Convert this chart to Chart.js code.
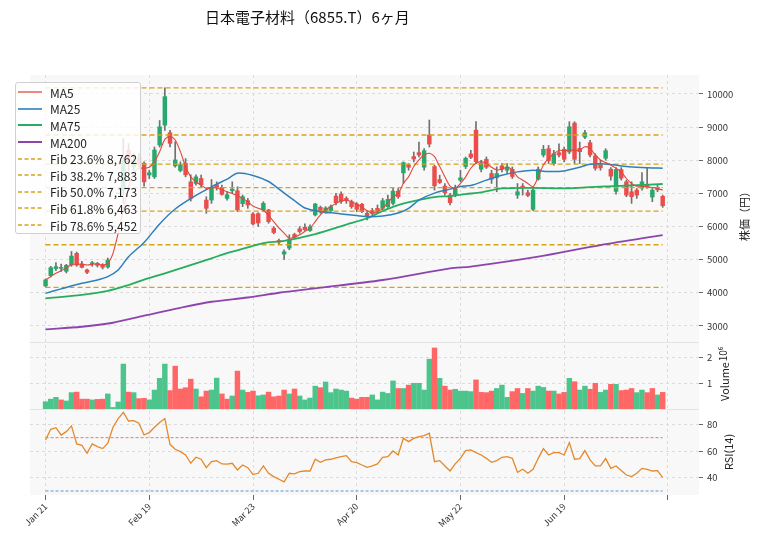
<!DOCTYPE html>
<html>
<head>
<meta charset="utf-8">
<script src="https://cdn.jsdelivr.net/npm/chart.js@4.4.0/dist/chart.umd.min.js"></script>
<style>
  body { margin: 0; background: #fff; font-family: "Noto Sans CJK JP", "Noto Sans", sans-serif; }
  #wrap { position: relative; width: 758px; height: 539px; }
  #title { position: absolute; left: 205px; top: 9px; font-size: 15px; line-height: 15px; color: #111; white-space: nowrap; }
  #legend { position: absolute; left: 15px; top: 82px; width: 126px; height: 152px; border: 1px solid #d0d0d0; border-radius: 3px;
            background: rgba(255,255,255,0.82); padding-top: 1px; box-sizing: border-box; }
  .row { height: 16.6px; display: flex; align-items: center; font-size: 12px; color: #222; white-space: nowrap; }
  .row svg { margin-left: 2px; margin-right: 8px; }
</style>
</head>
<body>
<div id="wrap">
  <canvas id="chart" width="758" height="539"></canvas>
  <div id="title">日本電子材料（6855.T）6ヶ月</div>
  <div id="legend"></div>
</div>
<script>
// x axis ticks (every 20 sessions)
const xTickIdx = [0, 20, 40, 60, 80, 100, 120];
const xTickLabels = ['Jan 21', 'Feb 19', 'Mar 23', 'Apr 20', 'May 22', 'Jun 19', ''];

const priceTicks = [3000, 4000, 5000, 6000, 7000, 8000, 9000, 10000];
const volTicks = [1, 2];
const rsiTicks = [40, 60, 80];

// daily candles
const opens = [4210,4520,4730,4740,4650,4840,5190,4870,4690,4880,4890,4850,4780,5990,6990,7100,8300,7800,8050,7910,
  7555,7500,8460,9060,8830,7830,7690,7910,7350,7300,7450,6800,6800,7260,7180,6850,7080,7080,6690,6780,
  6380,6390,6500,6500,5950,5580,5170,5350,5760,5930,5980,5880,6350,6580,6450,6480,6920,6980,6850,6750,
  6680,6670,6400,6480,6550,6550,6600,6700,7070,7620,7860,8110,8230,7790,8760,7810,7420,7220,6950,6950,
  7400,7810,8190,8910,7730,8030,7600,7480,7830,7700,7730,6950,7220,7020,6520,7430,8160,8350,7900,8230,
  8330,8250,9120,8360,8700,8530,8130,7900,8060,7730,7060,7720,7350,7050,7100,7160,7260,6890,7180,6910];
const highs = [4420,4800,4910,4870,4860,5250,5230,4950,4720,4950,4920,4880,5050,5990,6990,8660,8500,8200,8200,7950,
  7700,8400,9200,10183,8900,8560,7950,8050,7560,7560,7550,6900,7420,7350,7250,7050,7350,7200,6950,6850,
  6420,6420,6750,6520,6000,5620,5300,5750,5800,6000,6080,6050,6700,6620,6600,6650,7000,7050,6900,6800,
  6720,6700,6480,6550,6650,6850,6950,7150,7150,7950,7900,8250,8550,8350,9215,7850,7550,7300,7000,7250,
  7700,8100,8300,9164,8000,8100,7700,7800,7900,7900,7800,7300,7300,7100,7150,7800,8450,8450,8300,8500,
  8400,9164,9164,8550,8900,8600,8200,8000,8350,7780,7780,7780,7400,7350,7150,7630,7760,7150,7250,6950];
const lows = [4180,4480,4670,4650,4600,4800,4800,4750,4580,4800,4780,4720,4740,5990,6990,6700,7700,7700,7800,7220,
  7450,7450,8400,8900,8400,7790,7650,7500,6770,7250,7200,6400,6700,7100,6950,6800,7000,6450,6600,6550,
  6050,6000,6450,6100,5780,5480,5010,5300,5650,5800,5880,5850,6320,6400,6400,6450,6650,6700,6700,6550,
  6450,6420,6200,6350,6420,6500,6580,6650,6850,7300,7700,7950,8100,7700,8400,7100,7300,6950,6650,6900,
  7350,7750,8050,7900,7650,7750,7300,7050,7650,7600,7450,6850,6950,6900,6480,7400,8100,7900,7850,8100,
  7950,8200,7900,7900,8650,8100,7700,7700,8000,7400,6980,7400,6900,6700,6850,7100,7150,6750,7050,6580];
const closes = [4390,4760,4790,4770,4830,5110,4840,4770,4620,4900,4830,4770,4990,5990,6990,7990,7950,8000,7900,7350,
  7625,8310,9010,9920,8510,8010,7860,7560,6850,7500,7260,6550,7180,7190,6970,6960,7130,6500,6900,6650,
  6080,6110,6700,6150,5820,5530,5240,5620,5690,5850,5900,5990,6680,6450,6560,6600,6720,6760,6780,6600,
  6520,6450,6320,6400,6460,6780,6820,7070,6900,7930,7790,8040,8160,8290,8490,7230,7330,7020,6720,7150,
  7470,8060,8090,7960,7910,7790,7430,7600,7730,7800,7510,7050,7180,6940,7100,7730,8330,7990,8200,8160,
  8030,9010,8030,8260,8830,8160,7760,7770,8290,7520,7720,7460,6950,6900,6950,7350,7210,7100,7110,6630];

// volume in millions, colour by change from previous close (G up / R down)
const volumes = [0.28,0.38,0.45,0.35,0.31,0.63,0.65,0.38,0.38,0.35,0.37,0.38,0.58,0.06,0.27,1.73,0.65,0.63,0.40,0.41,
  0.35,0.73,1.18,1.73,0.71,1.65,0.77,0.82,1.15,0.77,0.47,0.69,0.73,1.19,0.58,0.38,0.50,1.46,0.73,0.64,
  0.69,0.51,0.54,0.65,0.47,0.50,0.73,0.58,0.77,0.50,0.35,0.42,0.88,0.82,1.04,0.63,0.77,0.73,0.69,0.42,
  0.38,0.45,0.45,0.54,0.35,0.65,0.60,1.08,0.79,0.79,0.92,0.99,0.99,0.73,1.92,2.35,1.18,0.88,0.73,0.76,
  0.69,0.69,0.67,1.12,0.64,0.63,0.69,0.79,0.92,0.45,0.67,0.79,0.60,0.79,0.69,0.88,0.83,0.69,0.69,0.58,
  0.64,1.18,1.05,0.73,0.88,0.76,0.99,0.64,0.73,0.95,0.95,0.71,0.73,0.79,0.63,0.73,0.63,0.79,0.54,0.64];
const volDir = 'GGGRGGRRRGRRGGGGRGRRGGGGRRRRRGRRGGRRGRGRRGGRRRRGRGGGGRGGGGGRRRRGGGGGRGRGGGGRGRRGGGGRRRRGGGRRGRGGGRGRRGRGGRRGGRGRRRGGRRGR';

const rsi = [68.3,76.3,77.5,72,74.5,78.8,65.3,64.3,58.3,65.3,63.3,61.8,65.8,77.8,84.3,89,82.5,82.8,80.8,72,
  73.8,77.8,81.3,84.3,65,61.3,59.5,57,50.8,55.3,53.8,47.5,52,52.8,50.3,50.2,50.8,45.8,49.5,47.5,
  42.3,43.3,48.8,43.3,40.8,38.8,36.8,43.3,42.8,44.5,45,45,53.8,51.5,53.3,53.8,54.8,55.8,56.5,52,
  51.3,49.5,47.8,48.8,50.3,55.3,55.8,60,57,69.5,67,69.5,70.8,71.5,73.3,52,52.8,48.8,45,50.3,
  54.5,60.3,60.8,58.8,57,54.5,51.5,52.8,55.3,55.8,54.5,44,46.3,43.3,46.3,54.5,61.8,57,58.8,58.8,
  57,66.3,53.8,54.3,60.3,53.3,48.8,48.8,54.3,47,48.8,45.3,42,40.8,43.3,47,46.3,45,45.3,40];
const rsiHigh = 70;
const rsiLow = 30;

// moving averages
const ma5 = [4390,4490,4590,4670,4740,4860,4860,4870,4840,4860,4870,4840,4890,5190,5800,6500,7200,7600,7760,7760,
  7790,7960,8260,8630,8730,8610,8260,7810,7500,7350,7250,7150,7170,7170,7110,7050,7000,6930,6850,6750,
  6620,6550,6500,6330,6150,5960,5800,5650,5680,5750,5850,5950,6150,6350,6500,6600,6700,6770,6800,6750,
  6680,6580,6480,6400,6450,6550,6720,6900,7000,7300,7500,7810,8010,8160,8210,8110,7810,7500,7220,7150,
  7300,7500,7760,7910,7960,7910,7790,7710,7730,7790,7710,7500,7400,7300,7200,7500,7860,8060,8190,8300,
  8290,8310,8300,8310,8410,8360,8160,8010,7930,7860,7760,7650,7450,7300,7220,7220,7200,7180,7150,7100];
const ma25X = [0,3,7,10,12,14,16,19,22,25,29,32,35,37,40,43,45,48,50,53,56,59,62,65,68,70,72,75,78,80,82,85,88,91,94,97,100,103,105,108,111,114,117,119];
const ma25Y = [3985,4120,4290,4390,4490,4690,5090,5520,6080,6530,6940,7200,7430,7610,7540,7360,7130,6780,6560,6450,6400,6350,6300,6320,6410,6550,6800,7010,7130,7210,7240,7400,7550,7650,7700,7660,7680,7790,7880,7890,7830,7790,7770,7757];
const ma75X = [0,7,12,16,19,23,26,29,32,35,39,42,46,52,58,62,65,68,71,75,78,81,84,88,94,100,104,108,111,114,119];
const ma75Y = [3834,3940,4060,4237,4400,4590,4740,4890,5040,5200,5370,5500,5570,5775,6060,6250,6470,6650,6770,6890,6920,6980,7030,7150,7170,7150,7180,7210,7225,7250,7284];
const ma200X = [0,7,13,19,26,32,39,45,52,65,78,82,95,107,119];
const ma200Y = [2899,2977,3098,3310,3550,3731,3860,4003,4136,4388,4739,4790,5090,5443,5745];

// Fibonacci retracement levels
const fibLevels = [10183, 8762, 7883, 7173, 6463, 5452, 4163];
const fibLegend = ['Fib 23.6% 8,762', 'Fib 38.2% 7,883', 'Fib 50.0% 7,173', 'Fib 61.8% 6,463', 'Fib 78.6% 5,452'];

const UP = '#27a96d', DOWN = '#eb4d4d';
const VOL_UP = '#4dc48b', VOL_DOWN = '#ff6767';
const FIB = '#d6a21a';
const MA_COLORS = { MA5: '#e0483b', MA25: '#2e80bb', MA75: '#27ad5f', MA200: '#8e44ad' };

Chart.defaults.font.family = '"Noto Sans CJK JP", "Noto Sans", sans-serif';
Chart.defaults.color = '#333';

const idx = opens.map((_, i) => i);
const lastIdx = opens.length - 1;
const pts = (xs, ys) => xs.map((x, i) => ({ x: x, y: ys[i] }));

const lineDs = (label, data, color, width, axis, order, extra) => Object.assign({
  type: 'line', label: label, data: data, borderColor: color, borderWidth: width,
  pointRadius: 0, fill: false, tension: 0, yAxisID: axis, order: order
}, extra || {});

const datasets = [
  {
    type: 'bar', label: 'wick', yAxisID: 'yP', order: 20, grouped: false, barThickness: 1,
    data: idx.map(i => ({ x: i, y: [lows[i], highs[i]] })),
    backgroundColor: '#707070'
  },
  {
    type: 'bar', label: 'body', yAxisID: 'yP', order: 19, grouped: false, barThickness: 3.8, minBarLength: 1,
    data: idx.map(i => ({ x: i, y: [opens[i], closes[i]] })),
    backgroundColor: idx.map(i => closes[i] >= opens[i] ? UP : DOWN)
  },
  lineDs('MA200', pts(ma200X, ma200Y), MA_COLORS.MA200, 1.8, 'yP', 5, { tension: 0.3 }),
  lineDs('MA75', pts(ma75X, ma75Y), MA_COLORS.MA75, 1.8, 'yP', 4, { tension: 0.3 }),
  lineDs('MA25', pts(ma25X, ma25Y), MA_COLORS.MA25, 1.5, 'yP', 3, { tension: 0.3 }),
  lineDs('MA5', idx.map(i => ({ x: i, y: ma5[i] })), MA_COLORS.MA5, 1.1, 'yP', 2, { tension: 0.25 }),
  {
    type: 'bar', label: 'volume', yAxisID: 'yV', order: 15, grouped: false, barThickness: 4.8,
    data: idx.map(i => ({ x: i, y: volumes[i] })),
    backgroundColor: idx.map(i => volDir[i] === 'G' ? VOL_UP : VOL_DOWN)
  },
  lineDs('RSI', idx.map(i => ({ x: i, y: rsi[i] })), '#e3892c', 1.3, 'yR', 1),
  lineDs('RSI70', [{ x: 0, y: rsiHigh }, { x: lastIdx, y: rsiHigh }], '#e0584c', 0.8, 'yR', 6, { borderDash: [3, 2] }),
  lineDs('RSI30', [{ x: 0, y: rsiLow }, { x: lastIdx, y: rsiLow }], '#3d7fbf', 0.8, 'yR', 6, { borderDash: [3, 2] })
];
fibLevels.forEach((lv, k) => {
  datasets.push(lineDs('fib' + k, [{ x: 0, y: lv }, { x: lastIdx, y: lv }], FIB, 1.3, 'yP', 7, { borderDash: [5, 3] }));
});

const gridCommon = { color: '#dcdcdc', tickColor: '#666', tickLength: 4, tickBorderDash: [1, 0] };
const borderCommon = { display: false, dash: [3, 3] };
const setTicks = list => scale => { scale.ticks = list.map(v => ({ value: v })); };
const yFit = scale => { scale.width = 59; };
const plainTick = v => String(v);

const panelPlugin = {
  id: 'panels',
  beforeDraw(chart) {
    const { ctx, chartArea, scales } = chart;
    ctx.save();
    ctx.fillStyle = '#f8f8f8';
    ctx.fillRect(chartArea.left, chartArea.top, chartArea.right - chartArea.left, chartArea.bottom - chartArea.top);
    ctx.strokeStyle = '#e4e4e4';
    ctx.lineWidth = 1;
    [scales.yP.bottom, scales.yV.bottom].forEach(y => {
      ctx.beginPath();
      ctx.moveTo(chartArea.left, Math.round(y) + 0.5);
      ctx.lineTo(chartArea.right, Math.round(y) + 0.5);
      ctx.stroke();
    });
    ctx.restore();
  },
  afterDraw(chart) {
    const { ctx, scales } = chart;
    const vText = (text, x, y, size) => {
      ctx.save();
      ctx.translate(x, y);
      ctx.rotate(-Math.PI / 2);
      ctx.font = size + 'px "Noto Sans CJK JP", "Noto Sans", sans-serif';
      ctx.fillStyle = '#222';
      ctx.textAlign = 'center';
      ctx.textBaseline = 'middle';
      ctx.fillText(text, 0, 0);
      ctx.restore();
    };
    vText('株価（円）', 745, (scales.yP.top + scales.yP.bottom) / 2 + 5, 11);
    vText('Volume', 725, (scales.yV.top + scales.yV.bottom) / 2 + 6, 11);
    vText('10⁶', 723, scales.yV.top + 12, 10);
    vText('RSI(14)', 729, (scales.yR.top + scales.yR.bottom) / 2, 11);
  }
};

new Chart(document.getElementById('chart'), {
  type: 'line',
  data: { datasets: datasets },
  options: {
    responsive: false,
    animation: false,
    events: [],
    layout: { padding: { left: 30, top: 75, right: 0, bottom: 0 } },
    plugins: { legend: { display: false }, tooltip: { enabled: false }, title: { display: false } },
    scales: {
      x: {
        type: 'linear', min: -3, max: 126, offset: false,
        grid: Object.assign({ offset: false }, gridCommon, { tickLength: 5 }),
        border: borderCommon,
        afterBuildTicks: setTicks(xTickIdx),
        afterFit: scale => { scale.height = 44; },
        ticks: {
          autoSkip: false, minRotation: 45, maxRotation: 45, font: { size: 9 }, color: '#333', padding: 1,
          callback: (v, i) => xTickLabels[i]
        }
      },
      yP: {
        type: 'linear', position: 'right', stack: 'panels', stackWeight: 267,
        min: 2517, max: 10573,
        grid: gridCommon, border: borderCommon,
        afterBuildTicks: setTicks(priceTicks), afterFit: yFit,
        ticks: { font: { size: 9.5 }, color: '#333', padding: 4, callback: plainTick }
      },
      yV: {
        type: 'linear', position: 'right', stack: 'panels', stackWeight: 67,
        min: 0, max: 2.58,
        grid: gridCommon, border: borderCommon,
        afterBuildTicks: setTicks(volTicks), afterFit: yFit,
        ticks: { font: { size: 9.5 }, color: '#333', padding: 4, callback: plainTick }
      },
      yR: {
        type: 'linear', position: 'right', stack: 'panels', stackWeight: 86,
        min: 27, max: 91.5,
        grid: gridCommon, border: borderCommon,
        afterBuildTicks: setTicks(rsiTicks), afterFit: yFit,
        ticks: { font: { size: 9.5 }, color: '#333', padding: 4, callback: plainTick }
      }
    }
  },
  plugins: [panelPlugin]
});

// legend overlay
const legendItems = [
  { label: 'MA5', color: MA_COLORS.MA5, width: 1.3, dash: '' },
  { label: 'MA25', color: MA_COLORS.MA25, width: 1.6, dash: '' },
  { label: 'MA75', color: MA_COLORS.MA75, width: 2, dash: '' },
  { label: 'MA200', color: MA_COLORS.MA200, width: 2, dash: '' }
].concat(fibLegend.map(t => ({ label: t, color: FIB, width: 1.4, dash: '4,2.5' })));

const legendEl = document.getElementById('legend');
legendItems.forEach(item => {
  const row = document.createElement('div');
  row.className = 'row';
  row.innerHTML = '<svg width="24" height="6"><line x1="0" y1="3" x2="24" y2="3" stroke="' + item.color +
    '" stroke-width="' + item.width + '"' + (item.dash ? ' stroke-dasharray="' + item.dash + '"' : '') + '/></svg>' +
    '<span>' + item.label + '</span>';
  legendEl.appendChild(row);
});
</script>
</body>
</html>
